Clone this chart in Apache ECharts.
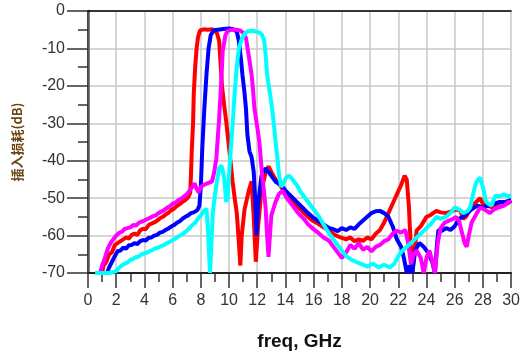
<!DOCTYPE html>
<html>
<head>
<meta charset="utf-8">
<script src="https://cdn.jsdelivr.net/npm/echarts@6/dist/echarts.min.js"></script>
<style>
html,body{margin:0;padding:0;background:#fff;}
#chart{width:523px;height:356px;}
</style>
</head>
<body>
<div id="chart"></div>
<script>
const xTicks = [0, 30, 2];
const yTicks = [-70, 0, 10];
const xName = 'freq, GHz';
const yName = '插入损耗(dB)';
const seriesNames = ['red', 'blue', 'magenta', 'cyan'];
const seriesColors = ['#ff0000', '#0000ff', '#ff00ff', '#00ffff'];

const redData = [[1.0,-70],[1.1,-68],[1.3,-67],[1.5,-65],[1.7,-64.5],[1.9,-62.5],[2.1,-62],[2.3,-61.5],[2.5,-61],[2.7,-60.5],[2.9,-60.8],[3.1,-59.8],[3.3,-59.5],[3.5,-59.8],[3.7,-58.6],[3.9,-58.2],[4.1,-58.3],[4.3,-57.2],[4.5,-56.8],[4.7,-56.5],[4.9,-56],[5.1,-55.4],[5.3,-55],[5.5,-54.4],[5.7,-53.9],[5.9,-53.2],[6.1,-52.8],[6.3,-52.1],[6.5,-51.6],[6.7,-51],[6.9,-50.5],[7.1,-49.8],[7.25,-48.5],[7.3,-44],[7.35,-38],[7.45,-30],[7.5,-22],[7.6,-15],[7.7,-10],[7.8,-7],[7.95,-5.2],[8.2,-4.9],[8.5,-5.0],[8.8,-4.9],[9.0,-5.1],[9.15,-6],[9.3,-8],[9.4,-14],[9.5,-20],[9.65,-25],[9.8,-29.5],[9.9,-33],[10.0,-36.5],[10.1,-40],[10.25,-45.5],[10.4,-50],[10.55,-54],[10.7,-62],[10.8,-68],[10.9,-60],[11.1,-53],[11.4,-48],[11.6,-45.5],[11.75,-55],[11.9,-67],[12.05,-58],[12.3,-48],[12.6,-43],[12.8,-41.5],[13.0,-43],[13.3,-45],[13.7,-47],[14.0,-48.8],[14.4,-50.5],[14.8,-52],[15.2,-53.5],[15.6,-55],[15.9,-56],[16.3,-56.8],[16.7,-57.8],[17.1,-58.7],[17.5,-59.8],[17.9,-60.5],[18.3,-61],[18.6,-60.5],[18.9,-61.5],[19.2,-61],[19.5,-61.4],[19.8,-60.5],[20.1,-61],[20.4,-59.5],[20.7,-58.5],[21.0,-56.5],[21.3,-54],[21.6,-51.5],[21.9,-49],[22.2,-46.5],[22.45,-44],[22.6,-45],[22.75,-52],[22.9,-64],[23.0,-70],[23.1,-66],[23.3,-58.7],[23.6,-57.5],[24.0,-55],[24.3,-54.5],[24.7,-53.4],[25.0,-53.8],[25.4,-54],[25.8,-53.5],[26.1,-53],[26.4,-53.4],[26.6,-55.5],[26.8,-55],[27.1,-53],[27.4,-51.5],[27.8,-50],[28.0,-51.5],[28.3,-52],[28.7,-52.5],[29.0,-51.5],[29.4,-51],[29.7,-51.5],[30.0,-50.7]];

const blueData = [[1.35,-70],[1.5,-68.5],[1.7,-67],[1.9,-65.5],[2.1,-64.2],[2.3,-64],[2.5,-63.2],[2.7,-63.5],[2.9,-62.6],[3.1,-62.5],[3.3,-62],[3.5,-62.3],[3.7,-61.5],[3.9,-61.2],[4.1,-61.3],[4.3,-60.6],[4.5,-60.5],[4.7,-60],[4.9,-59.8],[5.1,-59.2],[5.3,-59],[5.5,-58.5],[5.7,-58.1],[5.9,-57.6],[6.1,-57.2],[6.3,-56.6],[6.5,-56.2],[6.7,-55.5],[6.9,-55],[7.1,-54.6],[7.3,-54],[7.5,-53.8],[7.75,-53.2],[7.9,-52],[8.0,-47],[8.1,-37],[8.25,-26],[8.4,-17],[8.55,-10],[8.7,-6.5],[8.9,-5.2],[9.2,-5],[9.6,-4.8],[10.0,-4.7],[10.3,-4.9],[10.55,-5.5],[10.7,-8],[10.85,-13],[10.95,-17],[11.1,-22],[11.2,-26],[11.3,-33],[11.45,-37.5],[11.6,-39],[11.75,-43],[11.85,-50],[11.95,-60],[12.05,-52],[12.3,-44],[12.6,-42],[12.9,-43.5],[13.3,-45.6],[13.7,-46.5],[14.0,-48],[14.4,-49.5],[14.8,-51],[15.2,-52.5],[15.6,-54],[15.9,-55],[16.3,-56],[16.7,-57],[17.1,-58],[17.4,-58.3],[17.7,-58.8],[18.0,-58],[18.3,-58.5],[18.6,-57.8],[18.9,-58.2],[19.2,-57],[19.5,-56],[19.8,-55],[20.1,-54],[20.4,-53.5],[20.7,-53.4],[21.0,-54],[21.3,-55],[21.6,-57.5],[21.9,-61],[22.2,-63],[22.4,-66],[22.6,-70],[22.8,-68],[23.0,-70],[23.2,-64],[23.5,-62],[23.8,-63],[24.1,-64.5],[24.4,-67],[24.6,-70],[24.75,-62],[24.85,-58.5],[25.1,-58.7],[25.4,-58],[25.7,-58.5],[26.0,-57.5],[26.3,-55.5],[26.6,-55],[26.9,-54],[27.2,-53],[27.6,-52],[28.0,-52.5],[28.4,-52],[28.8,-51.5],[29.2,-51],[29.6,-51],[30.0,-50.5]];

const magentaData = [[0.85,-70],[1.0,-68],[1.2,-66],[1.4,-63.5],[1.6,-62],[1.8,-61],[2.0,-60],[2.2,-59.3],[2.4,-59],[2.6,-58.2],[2.8,-58],[3.0,-57.8],[3.2,-57.2],[3.4,-57.3],[3.6,-56.6],[3.8,-56.3],[4.0,-56],[4.2,-55.6],[4.4,-55.3],[4.6,-54.8],[4.8,-54.6],[5.0,-54],[5.2,-53.6],[5.4,-53.2],[5.6,-52.6],[5.8,-52.2],[6.0,-51.5],[6.2,-51.2],[6.4,-50.6],[6.6,-50.2],[6.8,-49.6],[7.0,-49],[7.2,-48],[7.4,-47],[7.55,-46],[7.7,-47.5],[7.85,-48.5],[8.0,-47],[8.2,-46.5],[8.5,-46],[8.8,-45.5],[8.95,-43],[9.1,-39.4],[9.2,-34],[9.3,-28.7],[9.45,-18.8],[9.55,-10.7],[9.75,-6.4],[9.9,-5.3],[10.2,-5],[10.5,-5],[10.8,-5.2],[11.0,-5.8],[11.2,-7.2],[11.4,-12],[11.6,-17],[11.7,-21],[11.8,-26],[12.0,-31],[12.15,-35],[12.35,-44],[12.5,-49],[12.6,-53],[12.7,-60],[12.8,-65.7],[12.9,-60],[13.0,-54.6],[13.3,-51],[13.55,-48.8],[13.8,-48],[14.1,-50],[14.5,-52],[14.9,-54],[15.3,-55.5],[15.6,-57],[15.9,-58],[16.3,-59.2],[16.7,-60.5],[17.1,-61.4],[17.4,-63],[17.7,-64.5],[18.0,-66],[18.3,-64.5],[18.6,-62.5],[18.9,-63.5],[19.2,-62],[19.5,-63.8],[19.8,-63],[20.1,-64.2],[20.4,-63],[20.7,-62.5],[21.0,-61.5],[21.3,-61],[21.6,-59.5],[21.9,-58.7],[22.2,-59.2],[22.5,-58.5],[22.7,-62],[22.9,-67.6],[23.1,-65],[23.3,-64],[23.6,-66],[23.8,-70],[24.0,-66],[24.2,-64],[24.4,-66.5],[24.6,-70],[24.8,-62],[25.0,-58],[25.3,-56.5],[25.6,-56],[25.9,-55.5],[26.1,-55],[26.3,-56],[26.5,-59],[26.7,-62],[26.85,-63],[27.0,-60],[27.2,-56.5],[27.5,-54.5],[27.8,-52.5],[28.1,-53],[28.5,-54],[28.8,-53],[29.1,-52.5],[29.5,-52],[29.8,-51],[30.0,-51]];

const cyanData = [[0.5,-70],[1.0,-70],[1.5,-70],[2.0,-69.5],[2.2,-68.6],[2.4,-68],[2.6,-67.5],[2.8,-67.2],[3.0,-66.5],[3.2,-66.2],[3.4,-65.8],[3.6,-65.6],[3.8,-65],[4.0,-64.8],[4.2,-64.5],[4.4,-64.1],[4.6,-63.8],[4.8,-63.4],[5.0,-63.2],[5.2,-62.8],[5.4,-62.5],[5.6,-62],[5.8,-61.7],[6.0,-61.2],[6.2,-60.8],[6.4,-60.3],[6.6,-59.8],[6.8,-59.4],[7.0,-58.7],[7.2,-58],[7.4,-57.2],[7.6,-56.5],[7.8,-55.5],[8.0,-54.7],[8.2,-53.5],[8.4,-52.8],[8.5,-58],[8.6,-66],[8.65,-70],[8.75,-62],[8.85,-54],[9.0,-49],[9.1,-46.6],[9.3,-42],[9.45,-41.3],[9.55,-42.5],[9.67,-45],[9.8,-51],[9.9,-50],[10.0,-44],[10.1,-38],[10.25,-30.6],[10.4,-22],[10.5,-17],[10.6,-13],[10.7,-10],[10.9,-7.5],[11.1,-6.2],[11.3,-5.5],[11.6,-5.3],[11.9,-5.5],[12.2,-5.8],[12.35,-6.5],[12.5,-8],[12.6,-12],[12.7,-17],[12.9,-22],[13.05,-26],[13.2,-31],[13.3,-35],[13.45,-40],[13.55,-44],[13.7,-47],[13.85,-46],[14.05,-44.5],[14.25,-44],[14.5,-45],[14.8,-46.5],[15.1,-48.5],[15.5,-50.5],[15.9,-52.5],[16.3,-54.5],[16.7,-57],[17.1,-59.5],[17.5,-61.5],[17.9,-63.5],[18.3,-65.5],[18.7,-66.5],[19.0,-67],[19.4,-67.6],[19.8,-68.3],[20.2,-67.5],[20.6,-68.5],[21.0,-67.8],[21.4,-68.5],[21.7,-67.6],[22.0,-65.5],[22.3,-64],[22.6,-63],[22.9,-62],[23.3,-60.5],[23.6,-59.5],[24.0,-58],[24.3,-57],[24.7,-55],[25.0,-55.5],[25.4,-55],[25.7,-54],[26.0,-52.5],[26.3,-53],[26.6,-54],[26.9,-53.5],[27.1,-52.5],[27.3,-49],[27.5,-46],[27.8,-44.5],[28.0,-47],[28.2,-50.7],[28.4,-51.5],[28.6,-52],[28.9,-49.3],[29.2,-49.5],[29.5,-49],[29.8,-49.5],[30.0,-49.3]];

const allData = [redData, blueData, magentaData, cyanData];

const chart = echarts.init(document.getElementById('chart'), null, {renderer: 'canvas'});
const font = '"Liberation Sans", Arial, sans-serif';
chart.setOption({
  animation: false,
  backgroundColor: '#ffffff',
  grid: {left: 88, right: 10, top: 11, bottom: 83, containLabel: false},
  xAxis: [{
    type: 'value', min: xTicks[0], max: xTicks[1], interval: xTicks[2],
    name: xName, nameLocation: 'middle', nameGap: 59,
    nameTextStyle: {fontFamily: font, fontSize: 19, fontWeight: 'bold', color: '#111'},
    axisLine: {show: true, onZero: false, lineStyle: {color: '#222', width: 2}},
    axisTick: {show: true, inside: false, length: 15, lineStyle: {color: '#333', width: 1.5}},
    minorTick: {show: true, splitNumber: 2, length: 9, lineStyle: {color: '#333', width: 1.5}},
    axisLabel: {fontFamily: font, fontSize: 16, color: '#333', margin: 20},
    splitLine: {show: true, lineStyle: {color: '#c8c8c8', width: 1.5}},
    minorSplitLine: {show: false}
  }, {
    type: 'value', position: 'top', min: xTicks[0], max: xTicks[1],
    axisLine: {show: true, lineStyle: {color: '#000', width: 1.5}},
    axisTick: {show: false}, axisLabel: {show: false}, splitLine: {show: false}
  }],
  yAxis: [{
    type: 'value', min: yTicks[0], max: yTicks[1], interval: yTicks[2],
    name: yName, nameLocation: 'middle', nameGap: 64, nameRotate: 90,
    nameTextStyle: {fontFamily: '"Noto Sans CJK SC", sans-serif', fontSize: 13, fontWeight: 'bold', color: '#6a4512'},
    axisLine: {show: true, onZero: false, lineStyle: {color: '#222', width: 2}},
    axisTick: {show: true, inside: false, length: 21, lineStyle: {color: '#333', width: 1.5}},
    minorTick: {show: true, splitNumber: 2, length: 10, lineStyle: {color: '#333', width: 1.5}},
    axisLabel: {fontFamily: font, fontSize: 16, color: '#333', margin: 23},
    splitLine: {show: true, lineStyle: {color: '#c8c8c8', width: 1.5}}
  }, {
    type: 'value', position: 'right', min: yTicks[0], max: yTicks[1],
    axisLine: {show: true, lineStyle: {color: '#555', width: 2.5}},
    axisTick: {show: false}, axisLabel: {show: false}, splitLine: {show: false}
  }],
  series: allData.map((d, i) => ({
    name: seriesNames[i],
    type: 'line',
    data: d,
    xAxisIndex: 0, yAxisIndex: 0,
    showSymbol: false,
    symbol: 'none',
    clip: true,
    lineStyle: {color: seriesColors[i], width: 4},
    itemStyle: {color: seriesColors[i]}
  }))
});
</script>
</body>
</html>
